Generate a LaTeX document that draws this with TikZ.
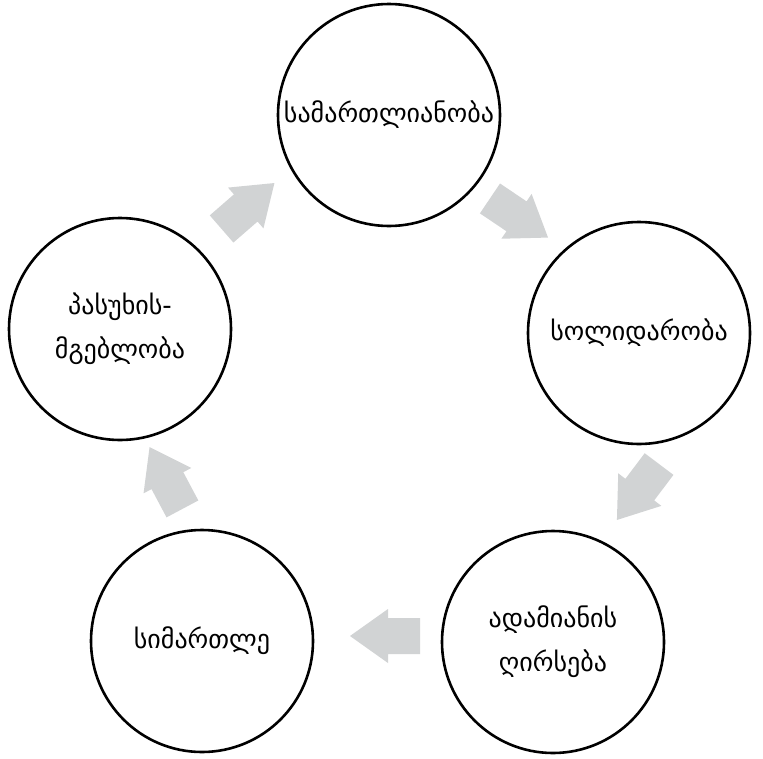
\documentclass[tikz,border=0pt]{standalone}
\usepackage{fontspec}
\newfontfamily\geofont{DejaVu Sans}
\definecolor{arrgray}{HTML}{D1D3D4}
\tikzset{
  valuecircle/.style={circle, draw=black, line width=2.6pt, minimum size=222pt, inner sep=0pt,
    align=center, font=\geofont\fontsize{26}{44}\selectfont},
  pics/blockarrow/.style={code={
    \fill[arrgray] (-35pt,-18pt) -- (-3pt,-18pt) -- (-3pt,-27pt) -- (35pt,0pt)
      -- (-3pt,27pt) -- (-3pt,18pt) -- (-35pt,18pt) -- cycle;
  }}
}
\begin{document}
\begin{tikzpicture}[x=1pt,y=-1pt]
\fill[white] (0,0) rectangle (763,758);
\useasboundingbox (0,0) rectangle (763,758);
\node[valuecircle] (c1) at (389,115) {სამართლიანობა};
\node[valuecircle] (c2) at (639,333) {სოლიდარობა};
\node[valuecircle] (c3) at (553,642) {ადამიანის\\ღირსება};
\node[valuecircle] (c4) at (202,641) {სიმართლე};
\node[valuecircle] (c5) at (120,329) {პასუხის-\\მგებლობა};
\pic[rotate=-34] (a12) at (519,218) {blockarrow};
\pic[rotate=-127] (a23) at (638,492) {blockarrow};
\pic[rotate=180] (a34) at (385,636) {blockarrow};
\pic[rotate=118] (a45) at (166,478) {blockarrow};
\pic[rotate=41] (a51) at (248,206) {blockarrow};
\end{tikzpicture}
\end{document}
